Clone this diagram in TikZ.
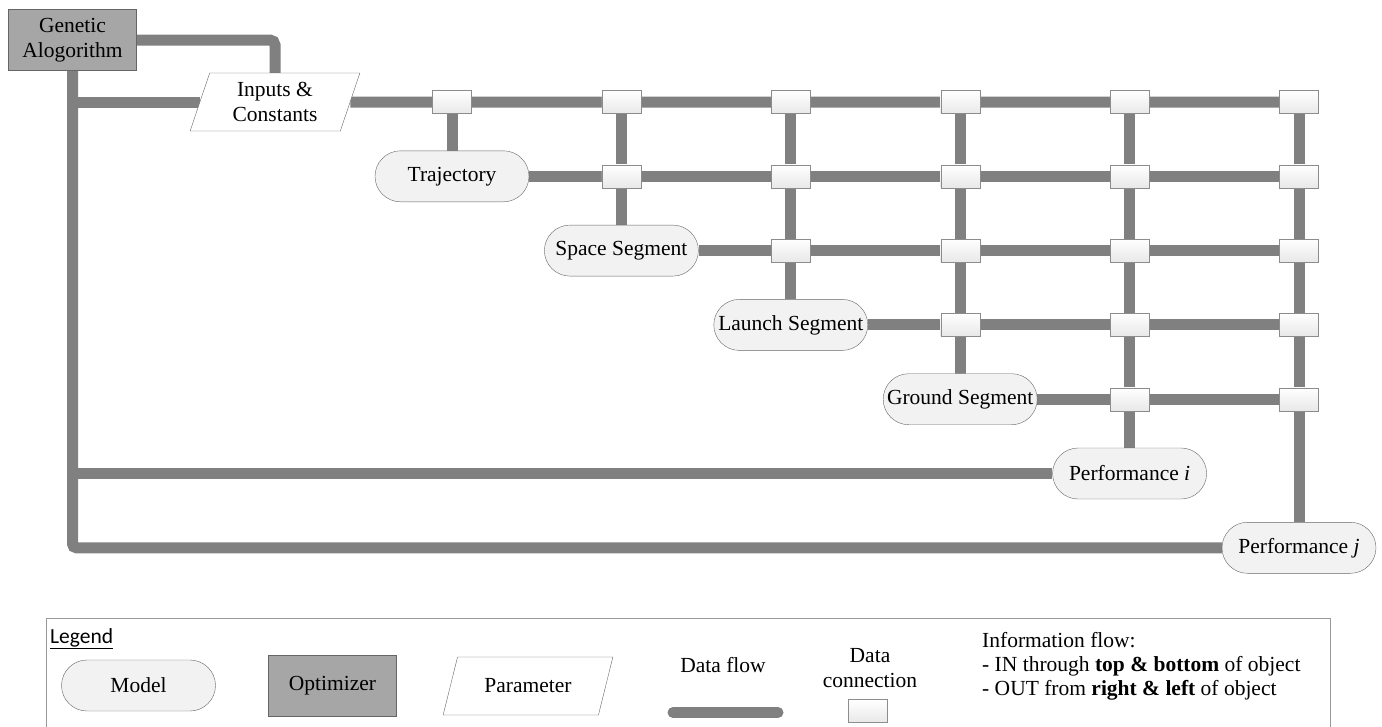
\documentclass[tikz,border=0pt]{standalone}
\usepackage{fontspec}
\setmainfont{Liberation Serif}
\newfontfamily\legendfont{Carlito}
\usetikzlibrary{shapes.misc,shapes.geometric,backgrounds}

\begin{document}
\begin{tikzpicture}[x=1pt,y=-1pt,
 every node/.style={font=\fontsize{21.5}{25}\selectfont},
 model/.style={rounded rectangle,draw=black!60,fill=gray!10,minimum width=158pt,minimum height=51pt,inner sep=2pt},
 optim/.style={rectangle,draw=black!60,fill=gray!70,minimum width=128pt,minimum height=61pt,align=center,inner sep=2pt},
 param/.style={trapezium,trapezium stretches=true,draw=black!60,fill=white,minimum width=170pt,minimum height=58pt,align=center,inner sep=2pt},
 conn/.style={rectangle,draw=black!45,top color=white,bottom color=gray!18,minimum width=39pt,minimum height=23pt,inner sep=0pt},
 flow/.style={draw=gray,line width=11pt}]
 \useasboundingbox (0,0) rectangle (1382,726);
 \node[optim] (ga) at (72.5,40) {Genetic\\Alogorithm};
 \node[param,trapezium left angle=73,trapezium right angle=107] (inp) at (275,102) {Inputs \&\\Constants};
 \foreach \k/\txt in {0/Trajectory,1/Space Segment,2/Launch Segment,3/Ground Segment,4/Performance \textit{i},5/Performance \textit{j}}
  \node[model] (m\k) at ({452+169.4*\k},{176.3+74.3*\k}) {\txt};
 \foreach \r in {0,...,4}
  \foreach \k in {\r,...,5}
   \node[conn] (c\r-\k) at ({452+169.4*\k},{102+74.3*\r}) {};
 \begin{scope}[on background layer]
  \draw[flow,rounded corners=5pt] (ga.east) -| (inp.north);
  \draw[flow,rounded corners=4pt] (ga.south) |- (m5.west);
  \draw[flow] (ga.south |- inp.west) -- (inp.west);
  \draw[flow] (ga.south |- m4.west) -- (m4.west);
  \draw[flow] (inp.east) -- (c0-5.center);
  \foreach \r/\p in {1/0,2/1,3/2,4/3}
   \draw[flow] (m\p.east) -- (c\r-5.center);
  \foreach \k in {0,...,5}
   \draw[flow] (c0-\k.center) -- (m\k.north);
 \end{scope}
 \draw[black!40] (46,727) |- (1330,618) -- (1330,727);
 \node[anchor=base west,inner sep=0pt] (leg) at (50,643) {\legendfont\underline{Legend}};
 \node[model] (lmodel) at (138.5,685.5) {Model};
 \node[optim] (lopt) at (332.5,685.5) {Optimizer};
 \node[param,trapezium left angle=63,trapezium right angle=117] (lpar) at (528,686) {Parameter};
 \node (lflow) at (723,665) {Data flow};
 \coordinate (lf1) at (673,712.5);
 \coordinate (lf2) at (778,712.5);
 \draw[flow,line cap=round] (lf1) -- (lf2);
 \node[align=center] (lconn) at (870,668) {Data\\connection};
 \node[conn] (lbox) at (868,711) {};
 \node[anchor=west,align=left,inner sep=0pt,font=\fontsize{21.5}{24}\selectfont] (linfo) at (982,666) {Information flow:\\- IN through \textbf{top \& bottom} of object\\- OUT from \textbf{right \& left} of object};
\end{tikzpicture}
\end{document}
